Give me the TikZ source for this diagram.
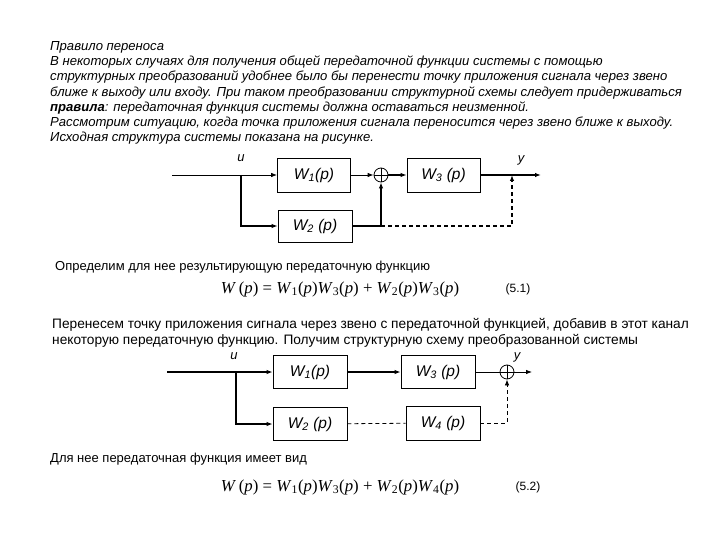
\documentclass[tikz,border=0pt]{standalone}
\usepackage{fontspec}
\setmainfont{Liberation Sans}
\newfontfamily\eqfont{Liberation Serif}
\usetikzlibrary{arrows.meta}

\newcommand{\eqW}[1]{\textit{W}\textsubscript{#1}(\textit{p})}

\tikzset{
  txt/.style={anchor=base west, align=left, inner sep=0pt,
    font=\fontsize{13}{15.3}\selectfont},
  blk/.style={draw, line width=0.8pt, minimum width=73pt, minimum height=34pt,
    inner sep=0pt, font=\fontsize{15.5}{17}\selectfont\itshape},
  lbl/.style={inner sep=0pt, font=\fontsize{13}{15}\selectfont\itshape},
  summer/.style={draw, circle, line width=0.8pt, minimum size=14pt, inner sep=0pt,
    path picture={\draw[line width=0.8pt]
      (path picture bounding box.north) -- (path picture bounding box.south)
      (path picture bounding box.west) -- (path picture bounding box.east);}},
  sig/.style={line width=0.8pt},
  bsig/.style={line width=1.6pt},
  arr/.style={-{Latex[length=6pt,width=4.5pt]}},
  dashline/.style={dash pattern=on 4pt off 3pt},
  eq/.style={inner sep=0pt, font=\eqfont\fontsize{16.8}{18}\selectfont},
  eqnum/.style={inner sep=0pt, font=\fontsize{12}{14}\selectfont}
}

\begin{document}
\begin{tikzpicture}[x=1pt,y=-1pt]
  \useasboundingbox[fill=white] (0,0) rectangle (720,540);

  % text above the first scheme (anchored at the last line)
  \node[txt, font=\fontsize{13.1}{15.3}\selectfont\itshape] (intro) at (50,142)
    {Правило переноса\\
     В некоторых случаях для получения общей передаточной функции системы с помощью\\
     структурных преобразований удобнее было бы перенести точку приложения сигнала через звено\\
     ближе к выходу или входу. При таком преобразовании структурной схемы следует придерживаться\\
     \textbf{правила}: передаточная функция системы должна оставаться неизменной.\\
     Рассмотрим ситуацию, когда точка приложения сигнала переносится через звено ближе к выходу.\\
     Исходная структура системы показана на рисунке.};

  % first scheme
  \coordinate (in1) at (172,175);
  \coordinate (br1) at (241,175);
  \coordinate (out1) at (541,175);
  \coordinate (t1) at (512,175);
  \node[lbl] (u1) at (241,158) {u};
  \node[lbl] (y1) at (521,160) {y};
  \node[blk] (w1) at (314,175) {W\textsubscript{1}(p)};
  \node[summer] (s1) at (381,175) {};
  \node[blk] (w3) at (443.5,175) {W\textsubscript{3} (p)};
  \node[blk, minimum width=74pt, minimum height=32pt] (w2) at (315,226) {W\textsubscript{2} (p)};
  \coordinate (j1) at (w2.east -| s1);
  \draw[sig] (in1) -- (br1);
  \draw[sig,arr] (br1) -- (w1);
  \draw[bsig,arr] (br1) |- (w2);
  \draw[sig,arr] (w1) -- (s1);
  \draw[bsig,arr] (s1) -- (w3);
  \draw[bsig,arr] (w3) -- (out1);
  \draw[bsig] (w2) -- (j1);
  \draw[bsig,arr] (j1) -- (s1);
  \draw[bsig,dashline,arr] (j1) -| (t1);

  % formula 5.1
  \node[txt] (def) at (55,270) {Определим для нее результирующую передаточную функцию};
  \node[eq] (eq1) at (340,289) {\textit{W}\,(\textit{p}) = \eqW{1}\eqW{3} + \eqW{2}\eqW{3}};
  \node[eqnum] (n1) at (518,289) {(5.1)};

  \node[txt, font=\fontsize{13.7}{16}\selectfont] (move) at (52,344)
    {Перенесем точку приложения сигнала через звено с передаточной функцией, добавив в этот канал\\
     некоторую передаточную функцию. Получим структурную схему преобразованной системы};

  % transformed scheme
  \coordinate (in2) at (167,372);
  \coordinate (br2) at (236,372);
  \coordinate (out2) at (532,372);
  \node[lbl] (u2) at (234,356) {u};
  \node[lbl] (y2) at (517,357) {y};
  \node[blk, minimum width=74pt, minimum height=33pt] (w1b) at (310,372) {W\textsubscript{1}(p)};
  \node[blk, minimum width=74pt, minimum height=33pt] (w3b) at (438,372) {W\textsubscript{3} (p)};
  \node[summer] (s2) at (507,372) {};
  \node[blk, minimum width=74pt, minimum height=33pt] (w2b) at (310,424) {W\textsubscript{2} (p)};
  \node[blk, minimum width=74pt, minimum height=34pt] (w4b) at (443,423) {W\textsubscript{4} (p)};
  \draw[bsig] (in2) -- (br2);
  \draw[bsig,arr] (br2) -- (w1b);
  \draw[bsig,arr] (br2) |- (w2b);
  \draw[bsig,arr] (w1b) -- (w3b);
  \draw[sig] (w3b) -- (s2);
  \draw[sig,arr] (s2) -- (out2);
  \draw[sig,dashline] (w2b) -- (w4b);
  \draw[sig,dashline,arr] (w4b) -| (s2);

  % formula 5.2
  \node[txt] (res) at (50,462) {Для нее передаточная функция имеет вид};
  \node[eq] (eq2) at (340,487) {\textit{W}\,(\textit{p}) = \eqW{1}\eqW{3} + \eqW{2}\eqW{4}};
  \node[eqnum] (n2) at (528,487) {(5.2)};
\end{tikzpicture}
\end{document}
